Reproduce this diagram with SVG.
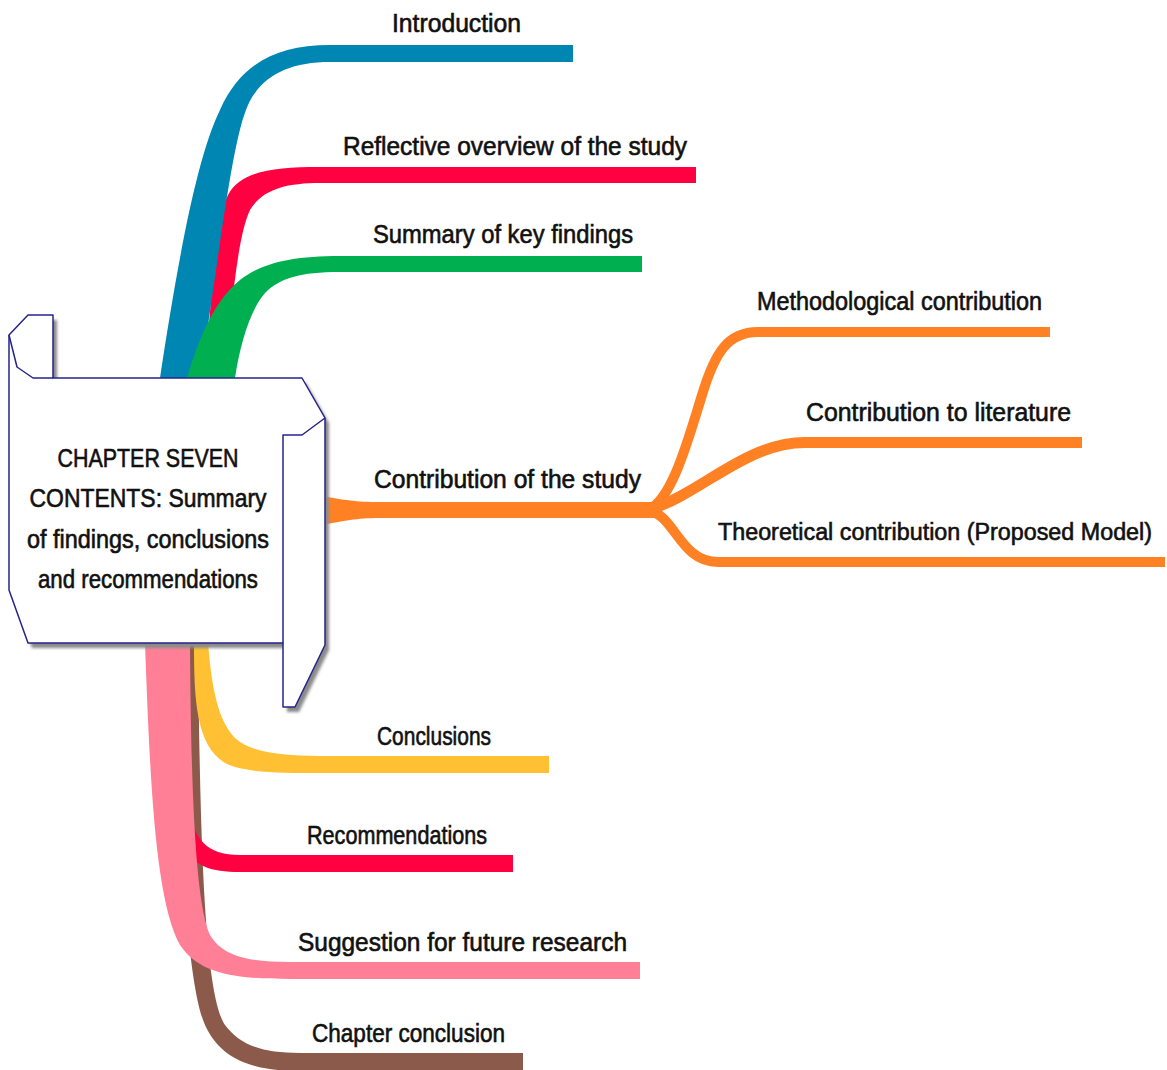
<svg xmlns="http://www.w3.org/2000/svg" width="1167" height="1070" viewBox="0 0 1167 1070">
  <style>
    .lbl { font-family: "Liberation Sans", "DejaVu Sans", sans-serif; font-size: 25px; fill: #111; stroke: #111; stroke-width: 0.6px; }
    .ctr { text-anchor: middle; }
    .scroll { fill: #fff; stroke: #24248c; stroke-width: 1.5; stroke-linejoin: round; }
    .fold { fill: none; stroke: #24248c; stroke-width: 1.5; stroke-linejoin: round; }
    .shadow { fill: #8a8a8a; }
    .sub { fill: none; stroke: #ff8124; stroke-linecap: butt; }
  </style>
  <defs>
    <filter id="soft" x="-10%" y="-10%" width="120%" height="120%">
      <feGaussianBlur stdDeviation="1.5"/>
    </filter>
  </defs>

  <!-- branches -->
  <g id="connectors">
    <!-- upper branches -->
    <path id="b-reflective" fill="#ff0040" d="M205,378 C212,290 215,220 228,195 C240,172 270,167 320,167 L696,167 L696,183 L320,183 C285,183 262,190 250,210 C238,235 232,300 225,378 Z"/>
    <path id="b-intro" fill="#0086b3" d="M160,378 C175,280 195,160 220,110 C240,65 275,45 330,45 L573,45 L573,62 L330,62 C290,62 262,75 248,105 C232,140 220,250 200,378 Z"/>
    <path id="b-summary" fill="#00b050" d="M187,378 C200,335 215,300 240,280 C260,264 290,256 340,256 L642,256 L642,272 L340,272 C300,272 280,278 265,293 C250,310 240,345 235,378 Z"/>

    <!-- contribution branch and its sub-branches -->
    <path id="b-contribution" fill="#ff8124" d="M322,496 C345,500 355,502 380,502 L655,502 L655,518 L380,518 C355,518 345,521 322,525 Z"/>
    <path class="sub" stroke-width="10" d="M648,510 C672,500 688,440 702,395 C715,352 728,332 758,332 L1050,332"/>
    <path class="sub" stroke-width="11" d="M648,510 C700,495 745,442.5 805,442.5 L1082,442.5"/>
    <path class="sub" stroke-width="10" d="M648,510 C675,515 680,562 718,562 L1165,562"/>

    <!-- lower branches -->
    <path id="b-chapter" fill="#8c5a4b" d="M175,643 C178,800 185,980 205,1025 C220,1058 250,1071 300,1071 L523,1071 L523,1053 L300,1053 C262,1053 240,1045 225,1025 C205,995 200,850 198,643 Z"/>
    <path id="b-recommend" fill="#ff0040" d="M188,812 C196,838 205,855 240,855 L513,855 L513,872 L240,872 C210,872 195,866 188,850 Z"/>
    <path id="b-suggest" fill="#ff7f96" d="M145,643 C150,780 155,900 180,945 C198,972 230,979 290,979 L640,979 L640,962 L290,962 C245,962 222,955 210,935 C196,905 191,800 190,643 Z"/>
    <path id="b-conclusions" fill="#ffc133" d="M194,643 C194,700 196,745 225,763 C245,773 280,773 320,773 L549,773 L549,756 L320,756 C280,756 250,752 235,738 C218,720 212,690 208,643 Z"/>
  </g>

  <!-- central scroll -->
  <g id="node-center">
    <path class="shadow" filter="url(#soft)" transform="translate(4,5)" d="M9,335 L28,315 L53,315 L53,378 L302,378 L325,418 L325,645 L295,707 L283,707 L283,643 L28,643 L9,590 Z"/>
    <path class="scroll" d="M9,335 L28,315 L53,315 L53,378 L302,378 L325,418 L325,645 L295,707 L283,707 L283,643 L28,643 L9,590 Z"/>
    <path class="fold" d="M9,335 L17,367 L33,378 L53,378"/>
    <path class="fold" d="M283,643 L283,435 L302,435 L325,418"/>
    <text class="lbl ctr" x="148" y="467" textLength="181" lengthAdjust="spacingAndGlyphs">CHAPTER SEVEN</text>
    <text class="lbl ctr" x="148" y="507" textLength="237" lengthAdjust="spacingAndGlyphs">CONTENTS: Summary</text>
    <text class="lbl ctr" x="148" y="548" textLength="242" lengthAdjust="spacingAndGlyphs">of findings, conclusions</text>
    <text class="lbl ctr" x="148" y="588" textLength="220" lengthAdjust="spacingAndGlyphs">and recommendations</text>
  </g>

  <!-- labels -->
  <g id="node-intro"><text class="lbl" x="392" y="32" textLength="129" lengthAdjust="spacingAndGlyphs">Introduction</text></g>
  <g id="node-reflective"><text class="lbl" x="343" y="155" textLength="344" lengthAdjust="spacingAndGlyphs">Reflective overview of the study</text></g>
  <g id="node-summary"><text class="lbl" x="373" y="243" textLength="260" lengthAdjust="spacingAndGlyphs">Summary of key findings</text></g>
  <g id="node-method"><text class="lbl" x="757" y="310" textLength="285" lengthAdjust="spacingAndGlyphs">Methodological contribution</text></g>
  <g id="node-literature"><text class="lbl" x="806" y="421" textLength="265" lengthAdjust="spacingAndGlyphs">Contribution to literature</text></g>
  <g id="node-contribution"><text class="lbl" x="374" y="488" textLength="267" lengthAdjust="spacingAndGlyphs">Contribution of the study</text></g>
  <g id="node-theory"><text class="lbl" x="718" y="540" font-size="23.5" textLength="434" lengthAdjust="spacingAndGlyphs" style="font-size:23.5px">Theoretical contribution (Proposed Model)</text></g>
  <g id="node-conclusions"><text class="lbl" x="377" y="745" textLength="114" lengthAdjust="spacingAndGlyphs">Conclusions</text></g>
  <g id="node-recommend"><text class="lbl" x="307" y="844" textLength="180" lengthAdjust="spacingAndGlyphs">Recommendations</text></g>
  <g id="node-suggest"><text class="lbl" x="298" y="951" textLength="329" lengthAdjust="spacingAndGlyphs">Suggestion for future research</text></g>
  <g id="node-chapter"><text class="lbl" x="312" y="1042" textLength="193" lengthAdjust="spacingAndGlyphs">Chapter conclusion</text></g>
</svg>
